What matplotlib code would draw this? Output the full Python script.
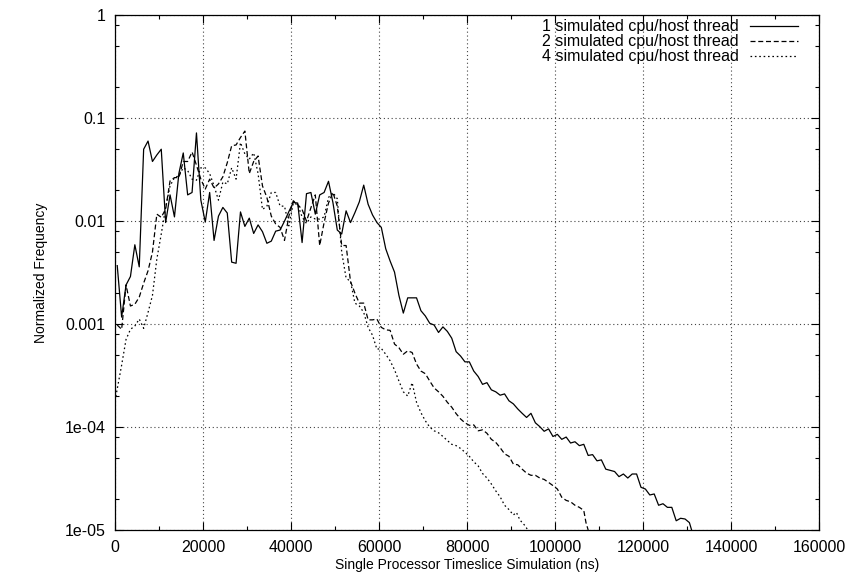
import matplotlib
matplotlib.use("Agg")
import matplotlib.pyplot as plt
from matplotlib.ticker import MultipleLocator, LogLocator, NullFormatter

plt.rcParams['font.family'] = ['Liberation Sans', 'DejaVu Sans']

# 1 simulated cpu per host thread (solid)
x1 = [500, 1500, 2500, 3500, 4500, 5500, 6500, 7500, 8500, 9500, 10500, 11500, 12500, 13500,
      14500, 15500, 16500, 17500, 18500, 19500, 20500, 21500, 22500, 23500, 24500, 25500, 26500,
      27500, 28500, 29500, 30500, 31500, 32500, 33500, 34500, 35500, 36500, 37500, 38500, 39500,
      40500, 41500, 42500, 43500, 44500, 45500, 46500, 47500, 48500, 49500, 50500, 51500, 52500,
      53500, 54500, 55500, 56500, 57500, 58500, 59500, 60500, 61500, 62500, 63500, 64500, 65500,
      66500, 67500, 68500, 69500, 70500, 71500, 72500, 73500, 74500, 75500, 76500, 77500, 78500,
      79500, 80500, 81500, 82500, 83500, 84500, 85500, 86500, 87500, 88500, 89500, 90500, 91500,
      92500, 93500, 94500, 95500, 96500, 97500, 98500, 99500, 100500, 101500, 102500, 103500,
      104500, 105500, 106500, 107500, 108500, 109500, 110500, 111500, 112500, 113500, 114500,
      115500, 116500, 117500, 118500, 119500, 120500, 121500, 122500, 123500, 124500, 125500,
      126500, 127500, 128500, 129500, 130500, 131000]
y1 = [0.0037, 0.00117, 0.0024, 0.0029, 0.0059, 0.0036, 0.050, 0.060, 0.038, 0.044, 0.050, 0.0097,
      0.018, 0.011, 0.029, 0.046, 0.018, 0.019, 0.072, 0.016, 0.0098, 0.019, 0.0065, 0.0112,
      0.0136, 0.012, 0.0040, 0.0039, 0.0123, 0.0089, 0.0107, 0.0076, 0.0092, 0.0079, 0.0061,
      0.0064, 0.0080, 0.0082, 0.0100, 0.0124, 0.0152, 0.0150, 0.0062, 0.0185, 0.019, 0.0117,
      0.018, 0.019, 0.0244, 0.0152, 0.0082, 0.0075, 0.0126, 0.0097, 0.0121, 0.0154, 0.0224,
      0.0146, 0.0115, 0.0097, 0.0087, 0.0054, 0.0041, 0.0032, 0.0019, 0.00128, 0.0018, 0.0018,
      0.0018, 0.00135, 0.0012, 0.00102, 0.00098, 0.00083, 0.00094, 0.00085, 0.00073, 0.00054,
      0.00049, 0.00043, 0.00043, 0.00035, 0.00031, 0.00026, 0.00027, 0.00023, 0.00022, 0.000204,
      0.00021, 0.00018, 0.000168, 0.00015, 0.000136, 0.000124, 0.000136, 0.00011, 0.000101,
      0.000091, 0.000096, 0.000081, 0.000085, 0.000076, 0.000080, 0.000070, 0.000072, 0.000066,
      0.000068, 0.000053, 0.000054, 0.000047, 0.000048, 0.000039, 0.000038, 0.000037, 0.000033,
      0.000035, 0.000032, 0.000035, 0.000035, 0.000026, 0.000025, 0.0000219, 0.0000224,
      0.0000174, 0.000018, 0.0000166, 0.0000166, 0.0000123, 0.0000130, 0.0000128, 0.0000118,
      0.0000100]

# 2 simulated cpus per host thread (dashed)
x2 = [500, 1500, 2500, 3500, 4500, 5500, 6500, 7500, 8500, 9500, 10500, 11500, 12500, 13500,
      14500, 15500, 16500, 17500, 18500, 19500, 20500, 21500, 22500, 23500, 24500, 25500, 26500,
      27500, 28500, 29500, 30500, 31500, 32500, 33500, 34500, 35500, 36500, 37500, 38500, 39500,
      40500, 41500, 42500, 43500, 44500, 45500, 46500, 47500, 48500, 49500, 50500, 51500, 52500,
      53500, 54500, 55500, 56500, 57500, 58500, 59500, 60500, 61500, 62500, 63500, 64500, 65500,
      66500, 67500, 68500, 69500, 70500, 71500, 72500, 73500, 74500, 75500, 76500, 77500, 78500,
      79500, 80500, 81500, 82500, 83500, 84500, 85500, 86500, 87500, 88500, 89500, 90500, 91500,
      92500, 93500, 94500, 95500, 96500, 97500, 98500, 99500, 100500, 101500, 102500, 103500,
      104500, 105500, 106500, 107000, 107500]
y2 = [0.00098, 0.00089, 0.0024, 0.0015, 0.00156, 0.00183, 0.0025, 0.0033, 0.0050, 0.0117,
      0.0109, 0.0131, 0.0246, 0.0265, 0.0265, 0.038, 0.038, 0.047, 0.035, 0.0256, 0.0205, 0.0256,
      0.021, 0.023, 0.027, 0.037, 0.054, 0.055, 0.065, 0.075, 0.029, 0.038, 0.043, 0.022, 0.017,
      0.0112, 0.0094, 0.0087, 0.0065, 0.0112, 0.0158, 0.0145, 0.013, 0.0100, 0.0135, 0.018,
      0.0058, 0.0097, 0.015, 0.019, 0.014, 0.0058, 0.0058, 0.0026, 0.0020, 0.0016, 0.0016, 0.0011,
      0.0011, 0.00112, 0.00093, 0.00088, 0.00087, 0.00064, 0.00059, 0.00051, 0.00055, 0.00053,
      0.00041, 0.00035, 0.00033, 0.00028, 0.00024, 0.00022, 0.000199, 0.000174, 0.000156,
      0.000135, 0.00012, 0.000110, 0.000104, 0.000105, 0.000092, 0.000094, 0.000087, 0.000076,
      0.000071, 0.000063, 0.000055, 0.000052, 0.0000437, 0.000043, 0.000039, 0.0000357, 0.000034,
      0.000034, 0.000032, 0.000031, 0.000029, 0.000027, 0.000025, 0.0000208, 0.0000194,
      0.0000188, 0.0000174, 0.0000166, 0.0000155, 0.0000118, 0.0000100]

# 4 simulated cpus per host thread (dotted)
x4 = [0, 1500, 2500, 3500, 4500, 5500, 6500, 7500, 8500, 9500, 10500, 11500, 12500, 13500,
      14500, 15500, 16500, 17500, 18500, 19500, 20500, 21500, 22500, 23500, 24500, 25500, 26500,
      27500, 28500, 29500, 30500, 31500, 32500, 33500, 34500, 35500, 36500, 37500, 38500, 39500,
      40500, 41500, 42500, 43500, 44500, 45500, 46500, 47500, 48500, 49500, 50500, 51000, 51500,
      52500, 53500, 54500, 55500, 56500, 57500, 58500, 59500, 60500, 61500, 62500, 63500, 64500,
      65500, 66500, 67500, 68500, 69500, 70500, 71500, 72500, 73500, 74500, 75500, 76500, 77500,
      78500, 79500, 80500, 81500, 82500, 83500, 84500, 85500, 86500, 87500, 88500, 89500, 90500,
      91200, 92000, 93000, 93800]
y4 = [0.00018, 0.0004, 0.00071, 0.00089, 0.00096, 0.00112, 0.00091, 0.0013, 0.0019, 0.0043,
      0.0075, 0.0136, 0.022, 0.0265, 0.0276, 0.033, 0.031, 0.0256, 0.025, 0.033, 0.033, 0.029,
      0.022, 0.016, 0.024, 0.023, 0.033, 0.0256, 0.058, 0.045, 0.040, 0.046, 0.029, 0.013, 0.014,
      0.019, 0.019, 0.014, 0.014, 0.0090, 0.0150, 0.0145, 0.011, 0.0095, 0.011, 0.0105, 0.0105,
      0.011, 0.017, 0.019, 0.0165, 0.0090, 0.0050, 0.0028, 0.0026, 0.0016, 0.0015, 0.0013,
      0.00093, 0.00078, 0.00057, 0.00058, 0.00051, 0.00044, 0.00036, 0.00028, 0.00022, 0.00020,
      0.00027, 0.000174, 0.000138, 0.000115, 0.0001, 0.000092, 0.000088, 0.000081, 0.000074,
      0.000068, 0.000066, 0.000062, 0.000057, 0.000052, 0.000046, 0.000042, 0.0000354, 0.000032,
      0.000028, 0.000024, 0.000021, 0.0000174, 0.0000158, 0.000014, 0.0000148, 0.0000125,
      0.0000112, 0.0000100]

labels = ['1 simulated cpu/host thread', '2 simulated cpu/host thread', '4 simulated cpu/host thread']
ytick_vals = [1e-5, 1e-4, 1e-3, 1e-2, 1e-1, 1]
ytick_labels = ['1e-05', '1e-04', '0.001', '0.01', '0.1', '1']

fs = 11.5

fig = plt.figure(figsize=(8.63, 5.79), dpi=100)
ax = fig.add_axes([0.1333, 0.0846, 0.816, 0.889])

ax.plot(x1, y1, color='black', lw=0.9, label=labels[0])
ax.plot(x2, y2, color='black', lw=0.9, linestyle=(0, (4, 2.2)), label=labels[1])
ax.plot(x4, y4, color='black', lw=0.9, linestyle=(0, (1.3, 2.2)), label=labels[2])

ax.set_yscale('log')
ax.set_xlim(0, 160000)
ax.set_ylim(1e-5, 1)
ax.set_xticks(range(0, 160001, 20000))
ax.xaxis.set_minor_locator(MultipleLocator(10000))
ax.set_yticks(ytick_vals)
ax.set_yticklabels(ytick_labels)
ax.yaxis.set_minor_locator(LogLocator(base=10, subs=[2, 5, 8]))
ax.yaxis.set_minor_formatter(NullFormatter())

ax.tick_params(which='both', direction='in', top=True, right=True, labelsize=fs, colors='black')
ax.tick_params(which='major', length=6, width=0.8, pad=7)
ax.tick_params(which='minor', length=3, width=0.8)
for s in ax.spines.values():
    s.set_linewidth(0.9)

ax.grid(True, which='major', color='#444444', linestyle=(0, (1, 2.5)), lw=0.8)

ax.set_xlabel('Single Processor Timeslice Simulation (ns)', fontsize=10, labelpad=2.5)
ax.set_ylabel('Normalized Frequency', fontsize=10, labelpad=12)

leg = ax.legend(loc='upper right', frameon=False, markerfirst=False, fontsize=fs,
                handlelength=3.0, handletextpad=0.7, labelspacing=0.0,
                borderaxespad=0.3, bbox_to_anchor=(0.985, 1.014))
for t in leg.get_texts():
    t.set_ha('right')

fig.savefig('out.png', dpi=100)
